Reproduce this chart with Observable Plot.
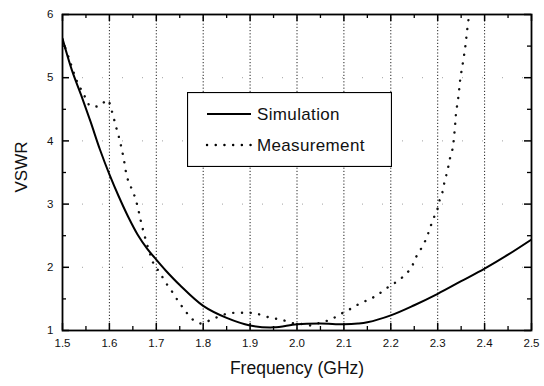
<!DOCTYPE html>
<html>
<head>
<meta charset="utf-8">
<script src="https://cdn.jsdelivr.net/npm/d3@7"></script>
<script src="https://cdn.jsdelivr.net/npm/@observablehq/plot@0.6"></script>
<style>
  html, body { margin: 0; padding: 0; background: #fff; }
  #wrap { position: relative; width: 544px; height: 386px; font-family: "Liberation Sans", Arial, sans-serif; }
  #legend { position: absolute; left: 187px; top: 92px; }
</style>
</head>
<body>
<div id="wrap"></div>
<script>
// ---- data ----
const seriesNames = ["Simulation", "Measurement"];
const simFreq = [1.5, 1.52, 1.54, 1.56, 1.58, 1.6, 1.62, 1.64, 1.66, 1.68, 1.7, 1.72, 1.75, 1.8, 1.85, 1.9, 1.95, 2.0, 2.05, 2.1, 2.13, 2.15, 2.2, 2.25, 2.3, 2.35, 2.4, 2.45, 2.5];
const simVswr = [5.62, 5.12, 4.72, 4.3, 3.86, 3.47, 3.12, 2.8, 2.52, 2.3, 2.12, 1.95, 1.72, 1.39, 1.2, 1.08, 1.05, 1.1, 1.11, 1.1, 1.11, 1.13, 1.24, 1.4, 1.58, 1.78, 1.98, 2.2, 2.44];
const measFreq = [1.5, 1.515, 1.53, 1.545, 1.56, 1.58, 1.596, 1.604, 1.61, 1.615, 1.621, 1.626, 1.63, 1.638, 1.647, 1.655, 1.662, 1.668, 1.675, 1.685, 1.694, 1.707, 1.72, 1.735, 1.748, 1.761, 1.775, 1.795, 1.814, 1.833, 1.853, 1.874, 1.895, 1.912, 1.934, 1.953, 1.972, 1.994, 2.013, 2.032, 2.051, 2.071, 2.09, 2.111, 2.13, 2.15, 2.169, 2.189, 2.21, 2.229, 2.244, 2.253, 2.265, 2.276, 2.283, 2.291, 2.299, 2.304, 2.311, 2.315, 2.321, 2.325, 2.331, 2.334, 2.337, 2.339, 2.342, 2.345, 2.347, 2.35, 2.353, 2.359, 2.362, 2.367];
const measVswr = [5.6, 5.28, 4.96, 4.74, 4.55, 4.56, 4.65, 4.5, 4.34, 4.2, 4.04, 3.88, 3.74, 3.42, 3.25, 3.1, 2.9, 2.7, 2.5, 2.25, 2.06, 1.92, 1.76, 1.6, 1.45, 1.32, 1.19, 1.11, 1.16, 1.22, 1.27, 1.28, 1.28, 1.27, 1.22, 1.19, 1.16, 1.11, 1.1, 1.08, 1.13, 1.17, 1.25, 1.33, 1.41, 1.48, 1.55, 1.66, 1.76, 1.87, 2.0, 2.15, 2.3, 2.46, 2.61, 2.77, 2.91, 3.06, 3.21, 3.37, 3.53, 3.69, 3.85, 4.0, 4.24, 4.43, 4.59, 4.75, 4.91, 5.07, 5.2, 5.5, 5.7, 6.0];
const xMajorTicks = [1.5, 1.6, 1.7, 1.8, 1.9, 2.0, 2.1, 2.2, 2.3, 2.4, 2.5];
const xMinorTicks = [1.55, 1.65, 1.75, 1.85, 1.95, 2.05, 2.15, 2.25, 2.35, 2.45];
const xGrid = [1.6, 1.7, 1.8, 1.9, 2.0, 2.1, 2.2, 2.3, 2.4];
const yMajorTicks = [1, 2, 3, 4, 5, 6];
const yMinorTicks = [1.5, 2.5, 3.5, 4.5, 5.5];
const yGrid = [2, 3, 4, 5];
const xLabel = "Frequency (GHz)";
const yLabel = "VSWR";

const sim = simFreq.map((f, i) => ({f, v: simVswr[i]}));
const meas = measFreq.map((f, i) => ({f, v: measVswr[i]}));

const W = 544, H = 386;
const mL = 62, mR = 13, mT = 14, mB = 56;
const pw = W - mL - mR, ph = H - mT - mB;
const major = 7, minor = 4;
const DOTS = "0.1,8.6";

const chart = Plot.plot({
  width: W, height: H,
  marginLeft: mL, marginRight: mR, marginTop: mT, marginBottom: mB,
  style: {fontFamily: "'Liberation Sans', Arial, sans-serif", background: "#fff", color: "#111"},
  x: {domain: [1.5, 2.5]},
  y: {domain: [1, 6]},
  marks: [
    // grid
    Plot.ruleY(yGrid, {y: d => d, stroke: "#888", strokeWidth: 1, strokeDasharray: "1,19", strokeOpacity: 0.8}),
    Plot.ruleX(xGrid, {x: d => d, stroke: "#222", strokeWidth: 1, strokeDasharray: "1.2,2"}),
    // series
    Plot.line(meas, {x: "f", y: "v", stroke: "#111", strokeWidth: 2.4, strokeDasharray: DOTS, strokeLinecap: "round", curve: "catmull-rom", clip: true}),
    Plot.line(sim, {x: "f", y: "v", stroke: "#000", strokeWidth: 2, curve: "catmull-rom", clip: true}),
    // inward ticks, all four sides
    Plot.tickX(xMajorTicks, {x: d => d, insetTop: ph - major, stroke: "#000", strokeWidth: 1.5}),
    Plot.tickX(xMajorTicks, {x: d => d, insetBottom: ph - major, stroke: "#000", strokeWidth: 1.5}),
    Plot.tickX(xMinorTicks, {x: d => d, insetTop: ph - minor, stroke: "#000", strokeWidth: 1.3}),
    Plot.tickX(xMinorTicks, {x: d => d, insetBottom: ph - minor, stroke: "#000", strokeWidth: 1.3}),
    Plot.tickY(yMajorTicks, {y: d => d, insetRight: pw - major, stroke: "#000", strokeWidth: 1.5}),
    Plot.tickY(yMajorTicks, {y: d => d, insetLeft: pw - major, stroke: "#000", strokeWidth: 1.5}),
    Plot.tickY(yMinorTicks, {y: d => d, insetRight: pw - minor, stroke: "#000", strokeWidth: 1.3}),
    Plot.tickY(yMinorTicks, {y: d => d, insetLeft: pw - minor, stroke: "#000", strokeWidth: 1.3}),
    Plot.frame({stroke: "#000", strokeWidth: 1.8}),
    // tick labels
    Plot.axisX(xMajorTicks, {tickSize: 0, tickPadding: 8, tickFormat: d3.format(".1f"), fontSize: 11.5, label: null}),
    Plot.axisY(yMajorTicks, {tickSize: 0, tickPadding: 9, tickFormat: d3.format("d"), fontSize: 11.5, label: null}),
    // axis titles
    Plot.text([xLabel], {text: d => d, frameAnchor: "bottom", dy: 43, fontSize: 17.5, fill: "#111", letterSpacing: "0.5px"}),
    Plot.text([yLabel], {text: d => d, frameAnchor: "left", dx: -41, dy: 20, rotate: -90, fontSize: 17, fill: "#111", letterSpacing: "0.3px"})
  ]
});

const wrap = document.getElementById("wrap");
wrap.appendChild(chart);

// legend (overlaid inside the plot area)
const lw = 205, lh = 75;
const rows = seriesNames.map((name, i) => {
  const cy = i === 0 ? 22 : 53;
  const dash = i === 0 ? "" : `stroke-dasharray="${DOTS}" stroke-linecap="round"`;
  const sw = i === 0 ? 2 : 2.4;
  return `<line x1="20" x2="64" y1="${cy}" y2="${cy}" stroke="#000" stroke-width="${sw}" ${dash}/>` +
    `<text x="70" y="${cy}" dy="0.36em" font-size="17" letter-spacing="0.35" fill="#111" font-family="'Liberation Sans', Arial, sans-serif">${name}</text>`;
}).join("");
const legend = document.createElement("div");
legend.id = "legend";
legend.innerHTML = `<svg width="${lw}" height="${lh}"><rect x="0.5" y="0.5" width="${lw - 1}" height="${lh - 1}" fill="#fff" stroke="#000" stroke-width="1.2"/>${rows}</svg>`;
wrap.appendChild(legend);
</script>
</body>
</html>
